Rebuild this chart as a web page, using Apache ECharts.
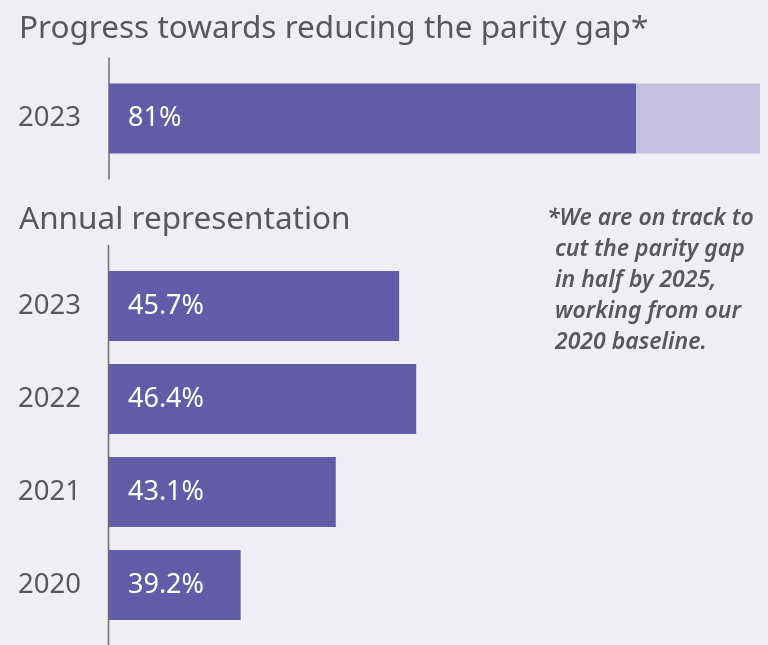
<!DOCTYPE html>
<html>
<head>
<meta charset="utf-8">
<script src="https://cdn.jsdelivr.net/npm/echarts@6/dist/echarts.min.js"></script>
<style>
  html, body { margin: 0; padding: 0; background: #efeef5; }
  #chart { width: 768px; height: 645px; }
</style>
</head>
<body>
<div id="chart"></div>
<script>
// data
var progressYears = ['2023'];
var progressValues = [81];
var progressRemainder = [19];

var annualYears = ['2023', '2022', '2021', '2020'];
var annualValues = [45.7, 46.4, 43.1, 39.2];

var noteLines = [
    '*We are on track to',
    'cut the parity gap',
    'in half by 2025,',
    'working from our',
    '2020 baseline.'
];

(function() {
    var myChart = echarts.init(document.getElementById('chart'));
    var purple = '#625ba7';
    var lilac = '#c4c1df';
    var textGrey = '#58585a';
    var axisGrey = '#6e6e70';
    var font = 'Noto Sans';

    // note text, first line hangs the asterisk
    var notes = noteLines.map(function(line, i) {
        return {
            type: 'text',
            left: i === 0 ? 547 : 555,
            top: 207 + i * 31,
            style: {
                text: line,
                fill: textGrey,
                font: 'italic 600 23px "Noto Sans"'
            }
        };
    });

    var option = {
        backgroundColor: '#efeef5',
        textStyle: { fontFamily: font },
        title: [{
            text: 'Progress towards reducing the parity gap*',
            left: 14,
            top: 8,
            textStyle: { color: textGrey, fontSize: 31.5, fontWeight: 'normal', fontFamily: font }
        }, {
            text: 'Annual representation',
            left: 14,
            top: 199,
            textStyle: { color: textGrey, fontSize: 31.5, fontWeight: 'normal', fontFamily: font }
        }],
        grid: [
            { left: 109, width: 651, top: 58, height: 121 },
            { left: 109, width: 651, top: 259.5, height: 372 }
        ],
        xAxis: [{
            gridIndex: 0, type: 'value', min: 0, max: 100, show: false
        }, {
            gridIndex: 1, type: 'value', min: 33.8, max: 60.5, show: false
        }],
        yAxis: [{
            gridIndex: 0,
            type: 'category',
            data: progressYears,
            axisLine: { lineStyle: { color: axisGrey, width: 1.5 } },
            axisTick: { show: false },
            axisLabel: { color: textGrey, fontSize: 27.5, margin: 28, fontFamily: font }
        }, {
            gridIndex: 1,
            type: 'category',
            inverse: true,
            data: annualYears,
            axisLine: { show: false },
            axisTick: { show: false },
            axisLabel: { color: textGrey, fontSize: 27.5, margin: 28, fontFamily: font }
        }],
        series: [{
            type: 'bar',
            xAxisIndex: 0, yAxisIndex: 0,
            stack: 'gap',
            barWidth: 70,
            data: progressValues,
            itemStyle: { color: purple },
            label: {
                show: true,
                position: 'insideLeft',
                distance: 19,
                color: '#fff',
                fontSize: 27,
                fontFamily: font,
                formatter: '{c}%'
            }
        }, {
            type: 'bar',
            xAxisIndex: 0, yAxisIndex: 0,
            stack: 'gap',
            barWidth: 70,
            data: progressRemainder,
            itemStyle: { color: lilac }
        }, {
            type: 'bar',
            xAxisIndex: 1, yAxisIndex: 1,
            barWidth: 70,
            data: annualValues,
            itemStyle: { color: purple },
            label: {
                show: true,
                position: 'insideLeft',
                distance: 19,
                color: '#fff',
                fontSize: 27,
                fontFamily: font,
                formatter: '{c}%'
            }
        }],
        graphic: [{
            // axis line of the lower chart runs past the bars
            type: 'line',
            shape: { x1: 108.5, y1: 245, x2: 108.5, y2: 645 },
            style: { stroke: axisGrey, lineWidth: 1.5 },
            z: 10
        }].concat(notes)
    };

    myChart.setOption(option);
    window.addEventListener('resize', function() {
        myChart.resize();
    });
})();
</script>
</body>
</html>
